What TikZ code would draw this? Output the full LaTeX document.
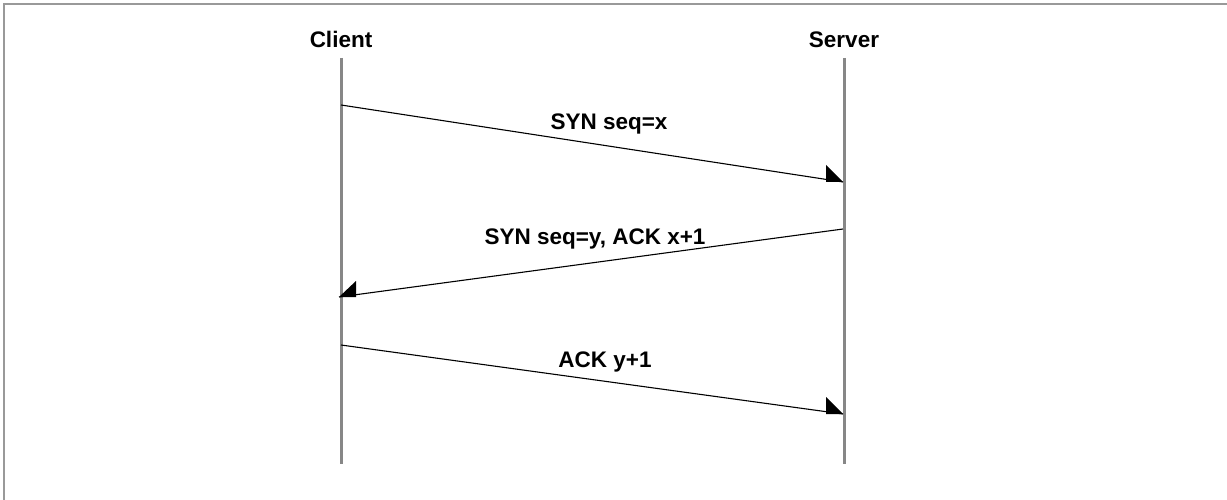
\documentclass[tikz,border=0pt]{standalone}
\usepackage{fontspec}
\setmainfont{Liberation Sans}
\begin{document}
\begin{tikzpicture}[x=1pt,y=-1pt,
  lifeline/.style={draw=black!47, line width=3pt},
  msg/.style={draw=black, line width=1.1pt},
  head/.style={fill=black},
  lbl/.style={font=\fontsize{22.5}{26}\selectfont\bfseries, anchor=base, inner sep=0pt},
  frame/.style={draw=black!40, line width=2pt}]
\useasboundingbox (0,0) rectangle (1227,500);
\fill[white] (0,0) rectangle (1227,500);
\draw[frame] (4,500) -- (4,4) -- (1227,4);
% titles
\node[lbl] (client) at (341,48) {Client};
\node[lbl] (server) at (844,48) {Server};
% lifelines
\coordinate (ctop) at (341,58);
\coordinate (cbot) at (341,464);
\coordinate (stop) at (844,58);
\coordinate (sbot) at (844,464);
\draw[lifeline] (ctop) -- (cbot);
\draw[lifeline] (stop) -- (sbot);
% message end points
\coordinate (m1a) at (341,105);
\coordinate (m1b) at (843,182);
\coordinate (m2a) at (843,229);
\coordinate (m2b) at (339,297);
\coordinate (m3a) at (341,345);
\coordinate (m3b) at (843,414);
\draw[msg] (m1a) -- (m1b);
\draw[msg] (m2a) -- (m2b);
\draw[msg] (m3a) -- (m3b);
% half arrowheads
\fill[head] (m1b) -- ++(-17,0) -- ++(0,-17) -- cycle;
\fill[head] (m2b) -- ++(17,0) -- ++(0,-16) -- cycle;
\fill[head] (m3b) -- ++(-17,0) -- ++(0,-17) -- cycle;
% labels
\node[lbl] (l1) at (609,130) {SYN seq=x};
\node[lbl] (l2) at (595,244) {SYN seq=y, ACK x+1};
\node[lbl] (l3) at (605,367) {ACK y+1};
\end{tikzpicture}
\end{document}
